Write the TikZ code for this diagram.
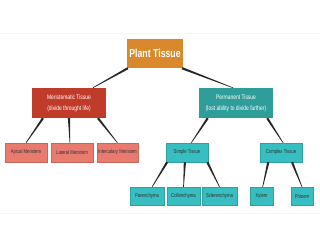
\documentclass[tikz,border=0pt]{standalone}
\usepackage{fontspec}
\usetikzlibrary{calc}
\newfontfamily\narrowfont[FakeStretch=0.76]{Liberation Sans}
\definecolor{tissuelaranja}{HTML}{D9882B}
\definecolor{tissuevermelho}{HTML}{C13B2A}
\definecolor{tissueverde}{HTML}{2F9E9B}
\definecolor{tissueciano}{HTML}{36BEC0}
\definecolor{tissuesalmao}{HTML}{E97B6E}
\tikzset{
  caixa/.style={inner sep=0pt, align=center, font=\narrowfont},
  topo/.style={caixa, fill=tissuelaranja, text=white,
    font=\narrowfont\fontsize{11.5}{12}\selectfont\bfseries},
  ramo/.style={caixa, text=white, font=\narrowfont\fontsize{6.5}{11}\selectfont,
    minimum width=74pt, minimum height=30pt},
  folha/.style={caixa, text=black!80, font=\narrowfont\fontsize{5.6}{6}\selectfont,
    minimum height=19pt, draw=#1!85!black, line width=0.3pt, fill=#1},
  folhab/.style={folha=#1, minimum height=18pt},
}
\begin{document}
\begin{tikzpicture}[x=1pt, y=-1pt]
  \useasboundingbox (0,0) rectangle (320,247);
  % riscas de fundo
  \draw[black!4, line width=0.5pt] (0,33) -- (320,33);
  \draw[black!4, line width=0.5pt] (0,213) -- (320,213);
  % caixas
  \node[topo, minimum width=56pt, minimum height=29pt] (plant) at (155,53.5) {Plant Tissue};
  \node[ramo, fill=tissuevermelho] (meri) at (69,103) {Meristematic Tissue\\(divide throught life)};
  \node[ramo, fill=tissueverde] (perm) at (236,103) {Permanent Tissue\\(lost ability to divide further)};
  \node[folha=tissuesalmao, minimum width=42pt] (apical) at (26,152.5) {Apical Meristem};
  \node[folha=tissuesalmao, minimum width=42pt] (lateral) at (72,152.5) {Lateral Meristem};
  \node[folha=tissuesalmao, minimum width=41pt] (intercalary) at (117.5,152.5) {Intercalary Meristem};
  \node[folha=tissueciano, minimum width=42pt] (simple) at (187,152.5) {Simple Tissue};
  \node[folha=tissueciano, minimum width=42pt] (complex) at (281,152.5) {Complex Tissue};
  \node[folhab=tissueciano, minimum width=34pt] (parenchyma) at (147,196) {Parenchyma};
  \node[folhab=tissueciano, minimum width=33pt] (collenchyma) at (183.5,196) {Collenchyma};
  \node[folhab=tissueciano, minimum width=35pt] (sclerenchyma) at (219.5,196) {Sclerenchyma};
  \node[folhab=tissueciano, minimum width=23pt] (xylem) at (261.5,196) {Xylem};
  \node[folhab=tissueciano, minimum width=22pt] (phloem) at (302,196) {Phloem};
  % ligacoes afiladas: (pai, fracao na base do pai, filho, fracao no topo do filho)
  \foreach \xp/\xf/\xc/\xd in {
    plant/0.02/meri/0.82, plant/0.98/perm/0.46,
    meri/0.15/apical/0.5, meri/0.5/lateral/0.45, meri/0.89/intercalary/0.5,
    perm/0.12/simple/0.6, perm/0.92/complex/0.55,
    simple/0.03/parenchyma/0.65, simple/0.45/collenchyma/0.5, simple/0.98/sclerenchyma/0.5,
    complex/0.2/xylem/0.55, complex/0.76/phloem/0.5}
  {
    \coordinate (s) at ($(\xp.south west)!\xf!(\xp.south east)$);
    \coordinate (e) at ($(\xc.north west)!\xd!(\xc.north east)$);
    \fill[black!85] ($(s)!1.1pt!90:(e)$) -- ($(s)!1.1pt!-90:(e)$)
      -- ($(e)!0.3pt!90:(s)$) -- ($(e)!0.3pt!-90:(s)$) -- cycle;
  }
\end{tikzpicture}
\end{document}
